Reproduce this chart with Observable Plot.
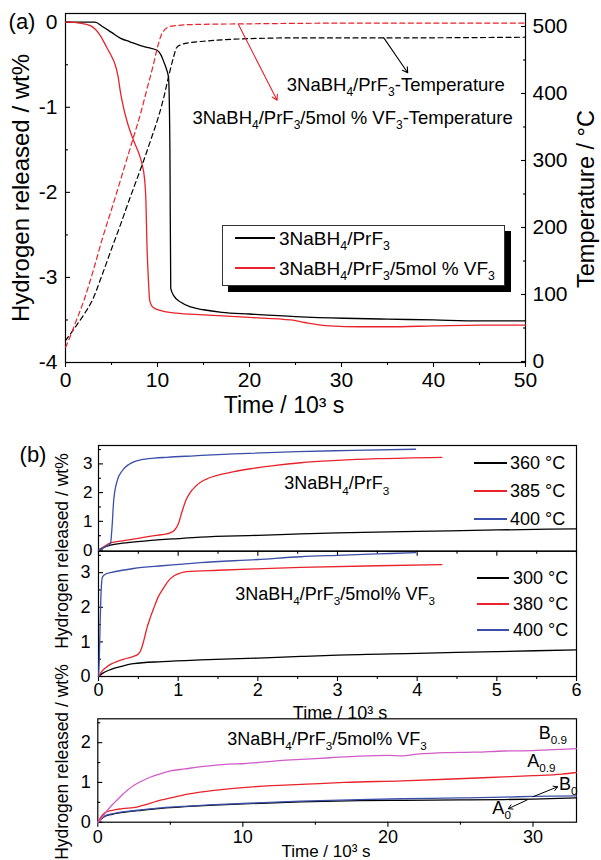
<!DOCTYPE html>
<html><head><meta charset="utf-8">
<script src="https://cdn.jsdelivr.net/npm/d3@7"></script>
<script src="https://cdn.jsdelivr.net/npm/@observablehq/plot@0.6"></script>
<style>
html,body{margin:0;padding:0;background:#fff;}
#root{position:relative;width:601px;height:860px;overflow:hidden;background:#fff;font-family:"Liberation Sans",Arial,Helvetica,sans-serif;color:#000;}
.lbl{position:absolute;white-space:nowrap;line-height:1;}
.sub{font-size:0.65em;position:relative;top:0.42em;}
</style></head><body><div id="root"></div>
<script>
// ---------- Panel (a): hydrogen released (wt%) ----------
const aTimePrF3 = [0,3.2,4,5,6,7,8,9,9.96,10.4,10.7,11,11.2,11.35,11.44,11.8,12.5,13.7,15,17,20,25,30.3,35,40,45,50];
const aWtPrF3   = [0,0,-0.05,-0.12,-0.19,-0.23,-0.27,-0.3,-0.33,-0.39,-0.47,-0.56,-0.65,-1.5,-3.13,-3.22,-3.29,-3.35,-3.38,-3.41,-3.43,-3.46,-3.48,-3.49,-3.5,-3.51,-3.51];
const aTimeVF3  = [0,0.5,1.5,2.7,3.8,4.5,5,5.4,5.7,6,6.3,6.7,7.4,8,8.3,8.6,8.74,8.85,9,9.15,9.5,10.4,12,15,20,24.5,26,28.7,32,35,40,45,50];
const aWtVF3    = [0,0,-0.01,-0.04,-0.16,-0.3,-0.4,-0.5,-0.63,-0.84,-1.0,-1.17,-1.39,-1.55,-1.66,-1.85,-2.1,-2.6,-3.0,-3.27,-3.35,-3.39,-3.42,-3.44,-3.47,-3.5,-3.53,-3.57,-3.58,-3.58,-3.57,-3.56,-3.56];
// Panel (a): temperature (°C)
const aTimeTempPrF3 = [0,1,2,2.9,4,5,6,6.9,7.7,8.5,9.3,10.1,10.7,11.2,11.7,12.1,12.6,13.6,15,18.3,25,35,50];
const aTempPrF3     = [31,50,70,91,130,168,205,240,270,300,332,365,395,425,452,469,473,476,478,481,483,483,484];
const aTimeTempVF3  = [0,0.5,1,2,3,4,5.3,6.4,7.4,8.2,8.9,9.5,10,10.4,10.7,11.2,11.8,14,20,30,40,50];
const aTempVF3      = [21,37,55,91,135,183,240,290,335,372,409,440,469,487,494,499,501,503,504,505,505,505];

// ---------- Panel (b) top: 3NaBH4/PrF3 ----------
const bTopT360 = [0,0.05,0.15,0.3,0.6,1.0,1.28,2,2.54,3,4,5,6];
const bTopW360 = [0,0.07,0.17,0.24,0.32,0.4,0.45,0.51,0.56,0.6,0.65,0.7,0.74];
const bTopT385 = [0,0.05,0.15,0.3,0.5,0.7,0.9,0.95,1.0,1.05,1.1,1.15,1.22,1.28,1.38,1.49,1.7,1.91,2.2,2.54,3.0,3.5,4.31];
const bTopW385 = [0,0.09,0.25,0.32,0.41,0.5,0.6,0.68,0.9,1.35,1.75,2.0,2.22,2.36,2.5,2.6,2.73,2.83,2.94,3.04,3.12,3.18,3.23];
const bTopT400 = [0,0.05,0.1,0.15,0.17,0.19,0.235,0.3,0.38,0.45,0.53,0.7,0.86,1.2,1.7,2.5,3.2,3.98];
const bTopW400 = [0,0.07,0.14,0.22,0.8,1.7,2.42,2.77,2.98,3.08,3.14,3.2,3.23,3.28,3.35,3.43,3.47,3.51];
// ---------- Panel (b) middle: 3NaBH4/PrF3/5mol% VF3 ----------
const bMidT300 = [0,0.05,0.15,0.3,0.44,0.8,1.28,2,2.54,3,4,5,6];
const bMidW300 = [0,0.09,0.2,0.3,0.37,0.43,0.48,0.53,0.58,0.62,0.67,0.72,0.77];
const bMidT380 = [0,0.05,0.1,0.15,0.25,0.35,0.44,0.5,0.53,0.57,0.61,0.65,0.69,0.75,0.82,0.88,0.95,1.03,1.11,1.5,2,2.54,3.5,4.31];
const bMidW380 = [0,0.17,0.27,0.35,0.45,0.52,0.58,0.65,0.75,1.05,1.42,1.7,1.95,2.3,2.57,2.77,2.91,2.99,3.03,3.07,3.11,3.15,3.2,3.23];
const bMidT400 = [0,0.01,0.02,0.03,0.05,0.1,0.15,0.3,0.44,0.8,1.28,2,2.54,3,3.5,3.98];
const bMidW400 = [0,0.5,1.5,2.3,2.88,2.97,3.0,3.07,3.12,3.2,3.29,3.38,3.46,3.5,3.54,3.58];
// ---------- Panel (b) bottom: long-time runs ----------
const bBotTB09 = [0,0.3,0.6,1,1.5,2.1,2.5,3,3.6,4.4,5,6,7,8,9,10,11,12,13,14,16,18,20,21,22,24,26,28,30,31,33];
const bBotWB09 = [0,0.12,0.27,0.44,0.62,0.82,0.93,1.03,1.13,1.23,1.29,1.34,1.39,1.43,1.46,1.47,1.5,1.53,1.56,1.58,1.62,1.66,1.68,1.67,1.71,1.75,1.76,1.79,1.8,1.82,1.85];
const bBotTA09 = [0,0.2,0.5,1,1.7,2.7,3.1,4.4,5,6.3,8,10,12,14,17,21,24,28,30,32,33];
const bBotWA09 = [0,0.12,0.24,0.3,0.34,0.38,0.42,0.56,0.61,0.71,0.8,0.87,0.92,0.95,1.0,1.04,1.08,1.14,1.17,1.21,1.25];
const bBotT0   = [0,0.2,0.5,1,2,3,4.4,6,8,10,14,18,21,25,28,30,33];
const bBotWB0  = [0,0.08,0.16,0.21,0.27,0.31,0.36,0.4,0.44,0.47,0.53,0.57,0.59,0.61,0.63,0.65,0.66];
const bBotWA0  = [0,0.07,0.15,0.2,0.26,0.3,0.35,0.39,0.43,0.46,0.51,0.54,0.55,0.56,0.57,0.58,0.61];

// ---------- labels / ticks ----------
const aLegendNames = ["3NaBH_4/PrF_3", "3NaBH_4/PrF_3/5mol % VF_3"];
const bTopLegend = ["360 °C", "385 °C", "400 °C"];
const bMidLegend = ["300 °C", "380 °C", "400 °C"];
const aNotes = [
  {x: 35.9, y: 413, text: "3NaBH_4/PrF_3-Temperature"},
  {x: 31.2, y: 364, text: "3NaBH_4/PrF_3/5mol % VF_3-Temperature"}
];
const aArrows = [
  {x1: 34.6, y1: 483, x2: 37.2, y2: 431, c: "black"},
  {x1: 18.8, y1: 503, x2: 23.0, y2: 390, c: "red"}
];
const bTopNote = [{x: 2.99, y: 2.32, text: "3NaBH_4/PrF_3"}];
const bMidNote = [{x: 2.97, y: 2.39, text: "3NaBH_4/PrF_3/5mol% VF_3"}];
const bBotNote = [{x: 15.8, y: 2.09, text: "3NaBH_4/PrF_3/5mol% VF_3"}];
const bBotTags = [
  {x: 30.4, y: 2.24, text: "B_{0.9}"},
  {x: 29.6, y: 1.54, text: "A_{0.9}"},
  {x: 31.8, y: 0.96, text: "B_0"},
  {x: 27.2, y: 0.36, text: "A_0"}
];
const bBotArrows = [
  {x1: 30.0, y1: 0.64, x2: 31.7, y2: 0.89},
  {x1: 29.6, y1: 0.56, x2: 28.3, y2: 0.34}
];

const FONT = '"Liberation Sans", Arial, Helvetica, sans-serif';
const COL = {black: "#000000", red: "#e8232a", blue: "#3a4ea8", mag: "#d05cc6"};
const root = document.getElementById("root");
const rng = (a, b, s) => d3.range(a, b + s / 2, s);
const pts = (xs, ys) => xs.map((x, i) => ({x, y: ys[i]}));

function subscripts(svg) {
  svg.querySelectorAll("text").forEach(t => {
    const s = t.textContent;
    if (!s.includes("_") || t.querySelector("tspan")) return;
    const fs = parseFloat(getComputedStyle(t).fontSize) || 18;
    const re = /_(?:\{([^}]*)\}|(.))/g;
    let last = 0, m; const pieces = [];
    while ((m = re.exec(s))) { pieces.push([s.slice(last, m.index), false]); pieces.push([m[1] ?? m[2], true]); last = re.lastIndex; }
    pieces.push([s.slice(last), false]);
    t.textContent = "";
    let shifted = false;
    for (const [txt, sub] of pieces) {
      if (!txt) continue;
      const ts = document.createElementNS("http://www.w3.org/2000/svg", "tspan");
      ts.textContent = txt;
      if (sub) { ts.setAttribute("font-size", (fs * 0.65).toFixed(2)); ts.setAttribute("dy", (fs * 0.3).toFixed(2)); shifted = true; }
      else if (shifted) { ts.setAttribute("dy", (-fs * 0.3).toFixed(2)); shifted = false; }
      t.appendChild(ts);
    }
  });
}
const toHTML = s => s.replace(/_(?:\{([^}]*)\}|(.))/g, (m, a, b) => `<span class="sub">${a ?? b}</span>`);

function place(opts, top) {
  const svg = Plot.plot({width: 601, ...opts,
    style: {background: "transparent", fontFamily: FONT, fontSize: "18px", color: "#000", overflow: "visible"}});
  svg.style.position = "absolute"; svg.style.left = "0px"; svg.style.top = top + "px";
  root.appendChild(svg);
  subscripts(svg);
  return svg;
}
function yAxes({major, minor, fmt = d => String(d), pad = 7, anchor = "left", fs = 18}) {
  const s = anchor === "right" ? -1 : 1;
  return [
    Plot.axisY({anchor, ticks: major, tickSize: 5, dx: 5 * s, fill: "none", label: null, strokeWidth: 1.1}),
    Plot.axisY({anchor, ticks: minor, tickSize: 3, dx: 3 * s, fill: "none", label: null, strokeWidth: 1.1}),
    Plot.axisY({anchor, ticks: major, tickSize: 0, tickPadding: pad, tickFormat: fmt, fontSize: fs, label: null})
  ];
}
function xAxes({major, minor, fmt = d => String(d), pad = 9, fs = 18, labels = true}) {
  const m = [
    Plot.axisX({ticks: major, tickSize: 5, fill: "none", label: null, strokeWidth: 1.1}),
    Plot.axisX({ticks: minor, tickSize: 3, fill: "none", label: null, strokeWidth: 1.1})
  ];
  if (labels) m.push(Plot.axisX({ticks: major, tickSize: 0, tickPadding: pad, tickFormat: fmt, fontSize: fs, label: null}));
  return m;
}
const line = (xs, ys, c, extra = {}) => Plot.line(pts(xs, ys), {x: "x", y: "y", stroke: c, strokeWidth: 1.3, curve: "monotone-x", ...extra});
const dashed = {strokeDasharray: "5,3.5", strokeWidth: 1.2};

function label(html, x, y, size, rot = 0, anchor = "middle") {
  const d = document.createElement("div");
  d.className = "lbl";
  d.innerHTML = toHTML(html);
  d.style.left = x + "px"; d.style.top = y + "px"; d.style.fontSize = size + "px";
  d.style.transform = `translate(${anchor === "start" ? "0" : "-50%"},-50%) rotate(${rot}deg)`;
  root.appendChild(d);
  return d;
}
function legend(names, colors, {x1, x2, tx, ys, fs}) {
  names.forEach((n, i) => {
    const l = document.createElement("div");
    l.style.cssText = `position:absolute;left:${x1}px;top:${ys[i] - 0.65}px;width:${x2 - x1}px;height:1.3px;background:${colors[i]}`;
    root.appendChild(l);
    label(n, tx, ys[i], fs, 0, "start");
  });
}

// ===== Panel (a) : wt% layer =====
const M_A = {height: 400, marginTop: 13, marginBottom: 38, marginLeft: 65, marginRight: 76};
place({...M_A,
  x: {domain: [0, 50]}, y: {domain: [-4, 0.1024]},
  marks: [
    Plot.frame({strokeWidth: 1.2}),
    ...yAxes({major: rng(-4, 0, 1), minor: rng(-3.5, -0.5, 1), pad: 8, fs: 21}),
    ...xAxes({major: rng(0, 50, 10), minor: rng(5, 45, 10), pad: 10, fs: 21}),
    line(aTimePrF3, aWtPrF3, COL.black),
    line(aTimeVF3, aWtVF3, COL.red)
  ]}, 0);
// ===== Panel (a) : temperature layer =====
place({...M_A,
  x: {domain: [0, 50], axis: null}, y: {domain: [-1.5, 519.4]},
  marks: [
    ...yAxes({major: rng(0, 500, 100), minor: rng(50, 450, 100), anchor: "right", pad: 7, fs: 21}),
    line(aTimeTempPrF3, aTempPrF3, COL.black, dashed),
    line(aTimeTempVF3, aTempVF3, COL.red, dashed),
    Plot.arrow(aArrows, {x1: "x1", y1: "y1", x2: "x2", y2: "y2", stroke: d => d.c === "red" ? COL.red : COL.black, strokeWidth: 1.1, headLength: 8}),
    Plot.text(aNotes, {x: "x", y: "y", text: "text", fontSize: 18.5, textAnchor: "middle"})
  ]}, 0);

// legend (a)
const box = document.createElement("div");
box.style.cssText = "position:absolute;left:222px;top:225px;width:281px;height:59px;border:1px solid #333;background:#fff;box-shadow:6px 6px 0 #000;";
root.appendChild(box);
legend(aLegendNames, [COL.black, COL.red], {x1: 235, x2: 275, tx: 279, ys: [238, 268], fs: 19});

label("(a)", 22, 22, 22);
label("Hydrogen released / wt%", 21, 188, 24, -90);
label("Temperature / °C", 587, 199, 23.5, -90);
label("Time / 10³ s", 284, 405, 23);

// ===== Panel (b) top =====
place({height: 130, marginTop: 15, marginBottom: 9.3, marginLeft: 98, marginRight: 25,
  x: {domain: [0, 6]}, y: {domain: [-0.04, 3.64]},
  marks: [
    Plot.frame({strokeWidth: 1.2}),
    ...yAxes({major: rng(0, 3, 1), minor: rng(0.5, 3.5, 1), pad: 6, fs: 17}),
    ...xAxes({major: rng(0, 6, 1), minor: rng(0.5, 5.5, 1), labels: false}),
    line(bTopT360, bTopW360, COL.black),
    line(bTopT385, bTopW385, COL.red),
    line(bTopT400, bTopW400, COL.blue),
    Plot.text(bTopNote, {x: "x", y: "y", text: "text", fontSize: 18})
  ]}, 430);
legend(bTopLegend, [COL.black, COL.red, COL.blue], {x1: 474, x2: 507, tx: 510, ys: [463, 491, 519], fs: 18});

// ===== Panel (b) middle =====
place({height: 175, marginTop: 5.7, marginBottom: 44, marginLeft: 98, marginRight: 25,
  x: {domain: [0, 6]}, y: {domain: [0, 3.62]},
  marks: [
    Plot.frame({strokeWidth: 1.2}),
    ...yAxes({major: rng(0, 3, 1), minor: rng(0.5, 3.5, 1), pad: 8, fs: 18}),
    ...xAxes({major: rng(0, 6, 1), minor: rng(0.5, 5.5, 1), pad: 7, fs: 18}),
    line(bMidT300, bMidW300, COL.black),
    line(bMidT380, bMidW380, COL.red),
    line(bMidT400, bMidW400, COL.blue),
    Plot.text(bMidNote, {x: "x", y: "y", text: "text", fontSize: 18})
  ]}, 545);
legend(bMidLegend, [COL.black, COL.red, COL.blue], {x1: 477, x2: 509, tx: 513, ys: [578, 604, 630], fs: 18});

// ===== Panel (b) bottom =====
place({height: 155, marginTop: 13.3, marginBottom: 38.3, marginLeft: 97.3, marginRight: 25,
  x: {domain: [0, 33]}, y: {domain: [0, 2.6]},
  marks: [
    Plot.frame({strokeWidth: 1.2}),
    ...yAxes({major: rng(0, 2, 1), minor: rng(0.5, 2.5, 1), pad: 7, fs: 18}),
    ...xAxes({major: rng(0, 30, 10), minor: rng(5, 25, 10), pad: 8, fs: 18}),
    line(bBotT0, bBotWA0, COL.black),
    line(bBotT0, bBotWB0, COL.blue),
    line(bBotTA09, bBotWA09, COL.red),
    line(bBotTB09, bBotWB09, COL.mag),
    Plot.arrow(bBotArrows, {x1: "x1", y1: "y1", x2: "x2", y2: "y2", stroke: "black", strokeWidth: 1, headLength: 7}),
    Plot.text(bBotNote, {x: "x", y: "y", text: "text", fontSize: 18}),
    Plot.text(bBotTags, {x: "x", y: "y", text: "text", fontSize: 18, textAnchor: "start"})
  ]}, 705);

label("(b)", 33, 455, 22);
label("Hydrogen released / wt%", 63, 551, 17.5, -90);
label("Hydrogen released / wt%", 63, 762, 17.5, -90);
label("Time / 10³ s", 340, 713, 18);
label("Time / 10³ s", 326, 851, 17);
</script></body></html>
